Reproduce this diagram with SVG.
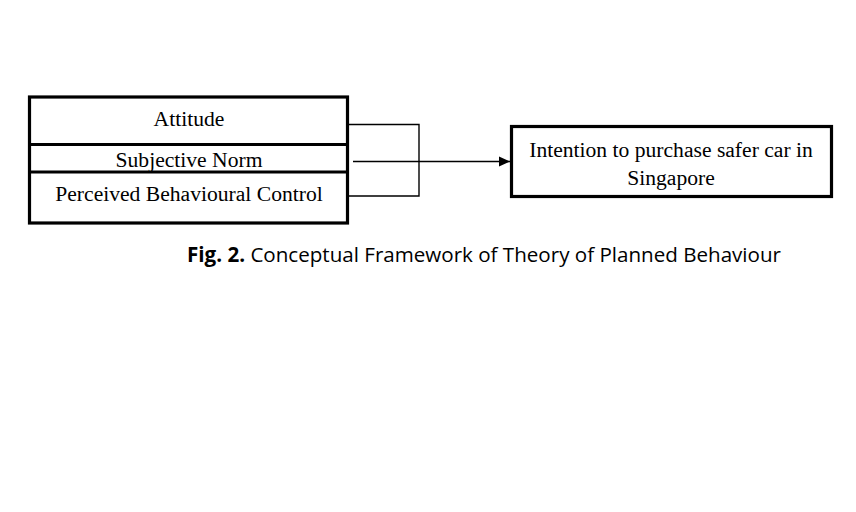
<svg xmlns="http://www.w3.org/2000/svg" width="856" height="512" viewBox="0 0 856 512">
<style>
.box{fill:#fff;stroke:#000;stroke-width:3.2}
.sep{stroke:#000;stroke-width:3.2}
.t{font-family:"Liberation Serif","Times New Roman",serif;font-size:21.6px;fill:#000;text-anchor:middle}
.ln{fill:none;stroke:#000;stroke-width:1.4}
.cap{font-family:"Open Sans","Liberation Sans",sans-serif;font-size:20.5px;fill:#000}
</style>
<defs>
<marker id="arr" markerWidth="12" markerHeight="12" refX="11" refY="6" orient="auto" markerUnits="userSpaceOnUse">
<path d="M0,1 L11,6 L0,11 Z" fill="#000"/>
</marker>
</defs>
<rect width="856" height="512" fill="#fff"/>
<g id="inputs">
<rect class="box" x="29.5" y="97" width="318" height="126"/>
<line class="sep" x1="29.5" y1="144.5" x2="347.5" y2="144.5"/>
<line class="sep" x1="29.5" y1="172" x2="347.5" y2="172"/>
</g>
<g id="attitude"><text class="t" x="189" y="126">Attitude</text></g>
<g id="subjective-norm"><text class="t" x="189" y="167">Subjective Norm</text></g>
<g id="pbc"><text class="t" x="189" y="201">Perceived Behavioural Control</text></g>
<g id="intention">
<rect class="box" x="511.5" y="126.5" width="320" height="70"/>
<text class="t" x="671" y="157">Intention to purchase safer car in</text>
<text class="t" x="671" y="185">Singapore</text>
</g>
<g id="connectors">
<polyline class="ln" points="349,124.5 419,124.5 419,196 349,196"/>
<line class="ln" x1="353" y1="161.5" x2="510" y2="161.5" marker-end="url(#arr)"/>
</g>
<text class="cap" x="187" y="262" textLength="594" lengthAdjust="spacingAndGlyphs"><tspan font-weight="bold">Fig. 2.</tspan> Conceptual Framework of Theory of Planned Behaviour</text>
</svg>
